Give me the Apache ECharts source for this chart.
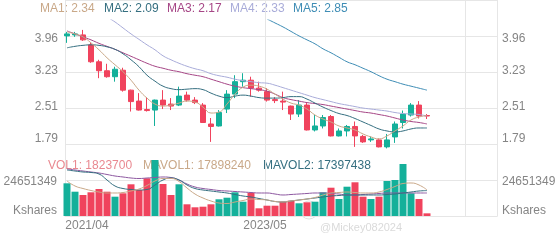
<!DOCTYPE html>
<html><head><meta charset="utf-8">
<script src="https://cdn.jsdelivr.net/npm/echarts@6/dist/echarts.min.js"></script>
<style>html,body{margin:0;padding:0;background:#fff}#c{width:560px;height:240px}</style>
</head><body><div id="c"></div>
<script>
// ---- data ----
const categories = ['2021/04','2021/05','2021/06','2021/07','2021/08','2021/09','2021/10','2021/11','2021/12',
 '2022/01','2022/02','2022/03','2022/04','2022/05','2022/06','2022/07','2022/08','2022/09','2022/10','2022/11','2022/12',
 '2023/01','2023/02','2023/03','2023/04','2023/05','2023/06','2023/07','2023/08','2023/09','2023/10','2023/11','2023/12',
 '2024/01','2024/02','2024/03','2024/04','2024/05','2024/06','2024/07','2024/08','2024/09','2024/10','2024/11','2024/12',
 '2025/01','','','','','','','','',''];
const openP  = [3.94,3.96,3.96,3.76,3.42,3.24,3.12,3.25,2.85,2.63,2.46,2.45,2.65,2.57,2.55,2.75,2.65,2.55,2.17,2.13,2.47,2.77,3.02,3.05,2.89,2.82,2.66,2.63,2.53,2.37,2.55,2.05,2.13,2.32,1.93,2.03,2.12,1.92,1.85,1.85,1.71,1.91,2.20,2.35,2.55,2.34];
const closeP = [3.98,3.98,3.86,3.42,3.24,3.12,3.27,2.85,2.62,2.45,2.44,2.65,2.55,2.53,2.73,2.65,2.60,2.20,2.12,2.40,2.77,3.02,3.05,2.89,2.85,2.65,2.64,2.61,2.37,2.55,2.05,2.13,2.30,1.93,2.03,2.12,1.93,1.81,1.87,1.71,1.85,2.17,2.37,2.55,2.33,2.33];
const lowP   = [3.80,3.92,3.84,3.40,3.09,3.10,3.02,2.82,2.42,2.44,2.42,2.13,2.47,2.45,2.53,2.62,2.57,2.19,1.81,2.12,2.39,2.69,2.92,2.72,2.82,2.62,2.59,2.45,2.25,2.31,2.04,2.02,2.08,1.92,1.92,1.92,1.71,1.79,1.81,1.70,1.68,1.79,2.08,2.32,2.28,2.27];
const highP  = [4.02,4.02,4.06,3.80,3.46,3.38,3.32,3.30,2.86,2.79,2.71,2.66,2.85,2.69,2.92,2.82,2.71,2.59,2.29,2.45,2.85,3.15,3.19,3.12,3.02,2.89,2.71,2.82,2.54,2.65,2.59,2.35,2.35,2.35,2.08,2.15,2.22,1.95,1.92,1.88,1.97,2.22,2.44,2.59,2.63,2.37];
const ma1 = [4.02,3.98,3.92,3.80,3.66,3.50,3.36,3.22,3.05,2.85,2.69,2.57,2.53,2.55,2.59,2.63,2.61,2.51,2.39,2.41,2.57,2.77,2.91,2.95,2.93,2.87,2.77,2.67,2.59,2.55,2.47,2.35,2.27,2.21,2.13,2.09,2.05,1.97,1.91,1.87,1.93,2.03,2.13,2.25,2.31,2.34];
const ma2 = [3.70,3.73,3.75,3.76,3.75,3.72,3.67,3.58,3.46,3.32,3.15,3.03,2.93,2.88,2.86,2.87,2.88,2.86,2.79,2.73,2.70,2.73,2.75,2.73,2.70,2.69,2.69,2.70,2.72,2.72,2.67,2.59,2.51,2.44,2.38,2.34,2.28,2.21,2.14,2.07,2.03,2.01,2.03,2.07,2.09,2.09];
const ma3 = [4.04,3.98,3.92,3.86,3.79,3.73,3.67,3.60,3.53,3.46,3.39,3.33,3.29,3.25,3.22,3.18,3.15,3.12,3.07,3.02,2.97,2.93,2.90,2.88,2.86,2.83,2.77,2.70,2.66,2.63,2.60,2.58,2.56,2.53,2.50,2.47,2.44,2.41,2.39,2.36,2.33,2.29,2.25,2.22,2.20,2.17];
const ma4 = ['-','-','-','-','-',4.32,4.22,4.10,3.98,3.87,3.76,3.66,3.54,3.46,3.39,3.33,3.28,3.24,3.18,3.14,3.11,3.07,3.04,3.02,3.00,2.99,2.95,2.90,2.85,2.80,2.75,2.70,2.66,2.62,2.58,2.55,2.52,2.49,2.47,2.45,2.43,2.40,2.38,2.37,2.36,2.33];
const ma5 = ['-','-','-','-','-','-','-','-','-','-','-','-','-','-','-','-','-','-','-','-','-','-','-','-','-',
 4.28,4.20,4.12,4.03,3.94,3.86,3.78,3.68,3.60,3.51,3.42,3.36,3.29,3.22,3.14,3.07,3.02,2.97,2.93,2.89,2.85];
const volume = [22390000,16640000,14380000,16230000,18490000,16640000,13220000,15540000,21710000,17800000,
 25820000,38350000,21910000,14380000,21710000,8010000,5960000,6370000,8010000,11440000,
 12530000,16230000,9790000,15950000,5270000,7050000,7050000,9790000,10480000,8700000,
 9380000,9790000,16230000,19380000,11640000,20060000,23080000,13220000,11640000,13220000,
 23970000,24650000,35610000,15540000,11640000,1823700];
const mavol1 = [23970000,20540000,18830000,17460000,16430000,15750000,15750000,16090000,17120000,18490000,
 20890000,23970000,25680000,25680000,23620000,19170000,15060000,12330000,10270000,8900000,
 8560000,9590000,10610000,11640000,11300000,10960000,9930000,9590000,10270000,10960000,
 11640000,12670000,14380000,15750000,16090000,16430000,16090000,15750000,15750000,16430000,
 18150000,20200000,22250000,22600000,21230000,17898240];
const mavol2 = [31500000,30810000,30130000,29790000,28760000,24650000,20540000,18830000,18150000,17800000,
 18150000,21230000,24650000,26020000,24650000,21230000,18830000,17800000,17120000,16430000,
 15750000,14720000,13700000,13010000,11980000,10960000,9930000,9590000,10270000,10960000,
 11640000,12330000,13010000,13700000,14040000,14380000,14380000,14380000,14380000,14380000,
 14720000,15060000,15750000,16430000,17120000,17397438];
const mavol3 = [32180000,31500000,30810000,30130000,29440000,28420000,27390000,26710000,26020000,25680000,
 26020000,26360000,26710000,26360000,24650000,21910000,19860000,18830000,18150000,17460000,
 17120000,16780000,16430000,16090000,15750000,15750000,15060000,14380000,14720000,15060000,
 15410000,15750000,15750000,15410000,15060000,14380000,14380000,14720000,15060000,15410000,
 15750000,15750000,15750000,15750000,15750000,15750000];
const priceTicks = [1.79, 2.51, 3.23, 3.96];
const volumeTick = 24651349;
const volumeUnit = 'Kshares';
const watermark = '@Mickey082024';

// ---- axis settings ----
const pMin = 1.788, pStep = 0.7233, pMax = 1.788 + 0.7233 * 123 / 36;
const vMax = volumeTick * 6;

const UP = '#14b09a', DOWN = '#f0435d';
const C = {ma1:'#c9a888', ma2:'#356f80', ma3:'#a64686', ma4:'#a9acd9', ma5:'#3f8db5', vol:'#e98890', mv3:'#8d58a0'};
const labelColor = '#858585', lineColor = '#e6e6e6';

const kData = openP.map((o,i)=>[o, closeP[i], lowP[i], highP[i]]);
const volData = volume.map((v,i)=>({value:v, itemStyle:{color: closeP[i] >= openP[i] ? UP : DOWN}}));
const last = a => a[a.length-1];

function priceFmt(v){
  const i = Math.round((v - pMin)/pStep);
  if (Math.abs(v - (pMin + i*pStep)) > 1e-6 || i < 0 || i >= priceTicks.length) return '';
  const t = priceTicks[i].toFixed(2);
  if (i === priceTicks.length-1) return '{t|'+t+'}';
  if (i === 0) return '{b|'+t+'}';
  return t;
}
const priceRich = {t:{padding:[8,0,0,0], color:labelColor, fontSize:12}, b:{padding:[0,0,8,0], color:labelColor, fontSize:12}};
function volFmt(v){
  if (v === 0) return '{u|'+volumeUnit+'}';
  if (Math.abs(v - volumeTick) < 1) return '{m|'+volumeTick+'}';
  return '';
}
const volRich = {u:{padding:[0,0,10,0], color:labelColor, fontSize:12}, m:{padding:[4,0,0,0], color:labelColor, fontSize:12}};
const font = 'Liberation Sans, Arial, sans-serif';

function line(name, data, color, xi, yi){
  return {name, type:'line', data, xAxisIndex:xi, yAxisIndex:yi, smooth:true, symbol:'none',
    lineStyle:{width:1, color}, itemStyle:{color}, silent:true, animation:false};
}

const chart = echarts.init(document.getElementById('c'), null, {renderer:'canvas'});
const txt = (x, y, s, color) => ({type:'text', left:x, top:y, style:{text:s, fill:color, font:'12px '+font}});
chart.setOption({
  animation:false,
  textStyle:{fontFamily:font},
  grid:[
    {left:67, right:61, top:20, height:123},
    {left:67, right:61, top:0, bottom:24},
    {left:65, right:63, top:0, bottom:24}
  ],
  xAxis:[
    {type:'category', gridIndex:0, data:categories, boundaryGap:false, show:false},
    {type:'category', gridIndex:1, data:categories, boundaryGap:false, show:false},
    {type:'category', gridIndex:2, data:categories, boundaryGap:false,
     axisLine:{lineStyle:{color:lineColor}}, axisTick:{show:false},
     axisLabel:{interval:24, margin:4, color:labelColor, fontSize:12,
       formatter:(v,i)=> i===0 ? '{f|'+v+'}' : v,
       rich:{f:{padding:[0,0,0,44], color:labelColor, fontSize:12}}},
     splitLine:{show:true, interval:24, lineStyle:{color:lineColor}}}
  ],
  yAxis:[
    {type:'value', gridIndex:0, min:pMin, max:pMax, interval:pStep, position:'left',
     axisLine:{show:false}, axisTick:{show:false}, splitLine:{show:false},
     axisLabel:{margin:9, color:labelColor, fontSize:12, formatter:priceFmt, rich:priceRich}},
    {type:'value', gridIndex:0, min:pMin, max:pMax, interval:pStep, position:'right',
     axisLine:{show:false}, axisTick:{show:false}, splitLine:{show:false},
     axisLabel:{margin:3, color:labelColor, fontSize:12, formatter:priceFmt, rich:priceRich}},
    {type:'value', gridIndex:1, min:0, max:vMax, show:false, splitLine:{show:false}},
    {type:'value', gridIndex:2, min:0, max:vMax, interval:volumeTick, position:'left',
     axisLine:{show:true, lineStyle:{color:lineColor}}, axisTick:{show:false},
     splitLine:{show:true, lineStyle:{color:lineColor}},
     axisLabel:{margin:8, color:labelColor, fontSize:12, formatter:volFmt, rich:volRich}},
    {type:'value', gridIndex:2, min:0, max:vMax, interval:volumeTick, position:'right',
     axisLine:{show:true, lineStyle:{color:lineColor}}, axisTick:{show:false},
     splitLine:{show:false},
     axisLabel:{margin:5, color:labelColor, fontSize:12, formatter:volFmt, rich:volRich}}
  ],
  series:[
    {type:'bar', name:'VOL', data:volData, xAxisIndex:1, yAxisIndex:2, barWidth:7, silent:true},
    line('MAVOL3', mavol3, C.mv3, 1, 2),
    line('MAVOL2', mavol2, C.ma2, 1, 2),
    line('MAVOL1', mavol1, C.ma1, 1, 2),
    {type:'candlestick', name:'K', data:kData, xAxisIndex:0, yAxisIndex:0, barWidth:6, silent:true,
     itemStyle:{color:UP, color0:DOWN, borderColor:UP, borderColor0:DOWN, borderWidth:1}},
    line('MA5', ma5, C.ma5, 0, 0),
    line('MA4', ma4, C.ma4, 0, 0),
    line('MA3', ma3, C.ma3, 0, 0),
    line('MA2', ma2, C.ma2, 0, 0),
    line('MA1', ma1, C.ma1, 0, 0)
  ],
  graphic:[
    txt(40, 3, 'MA1: ' + last(ma1).toFixed(2), C.ma1),
    txt(104, 3, 'MA2: ' + last(ma2).toFixed(2), C.ma2),
    txt(167, 3, 'MA3: ' + last(ma3).toFixed(2), C.ma3),
    txt(230, 3, 'MA4: ' + last(ma4).toFixed(2), C.ma4),
    txt(293, 3, 'MA5: ' + last(ma5).toFixed(2), C.ma5),
    txt(48, 160, 'VOL1: ' + last(volume), C.vol),
    txt(143, 160, 'MAVOL1: ' + last(mavol1), C.ma1),
    txt(263, 160, 'MAVOL2: ' + last(mavol2), C.ma2),
    {type:'circle', shape:{cx:309, cy:210, r:9}, style:{fill:'none', stroke:'#e2e2e2', lineWidth:1}},
    {type:'text', left:320, top:222, style:{text:watermark, fill:'#dadada', font:'11px '+font}}
  ]
});
</script></body></html>
